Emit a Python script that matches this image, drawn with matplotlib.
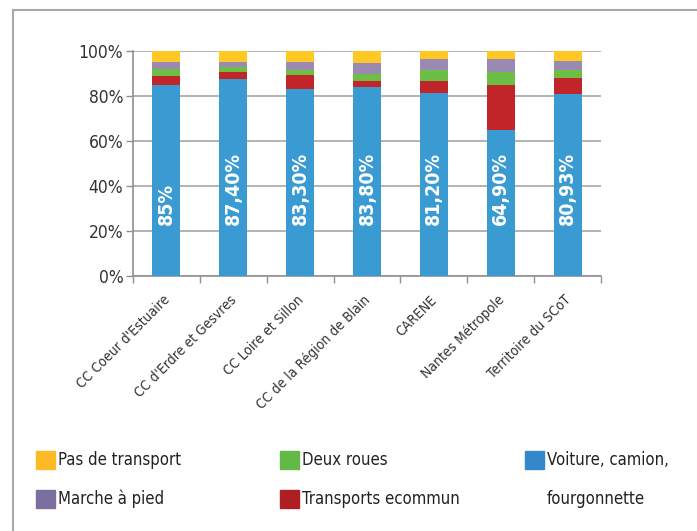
import matplotlib
matplotlib.use("Agg")
import matplotlib.pyplot as plt
from matplotlib.lines import Line2D
from matplotlib.patches import Rectangle
import numpy as np

plt.rcParams['font.family'] = ['DejaVu Sans']
plt.rcParams['font.stretch'] = 'condensed'

categories = ["CC Coeur d'Estuaire", "CC d'Erdre et Gesvres", "CC Loire et Sillon",
              "CC de la Région de Blain", "CARENE", "Nantes Métropole", "Territoire du SCoT"]
voiture = [85.0, 87.4, 83.3, 83.8, 81.2, 64.9, 80.93]
transports = [4.0, 3.1, 5.9, 2.7, 5.3, 19.9, 7.0]
deux_roues = [3.0, 2.3, 2.4, 3.3, 5.1, 5.9, 3.7]
marche = [3.0, 2.2, 3.4, 4.7, 4.7, 5.6, 3.8]
pas_transport = [5.0, 5.0, 5.0, 5.5, 3.7, 3.7, 4.6]
bar_labels = ["85%", "87,40%", "83,30%", "83,80%", "81,20%", "64,90%", "80,93%"]

series = [
    (voiture, '#3A9BD3'),
    (transports, '#C1252A'),
    (deux_roues, '#6DBE45'),
    (marche, '#9A89B0'),
    (pas_transport, '#FFC824'),
]

# legend entries: label, colour, x, y (pixels)
legend_items = [
    ("Pas de transport", '#FBBA26', 36, 460),
    ("Marche à pied", '#7A6F9E', 36, 499),
    ("Deux roues", '#62B946', 280, 460),
    ("Transports ecommun", '#AE1F24', 280, 499),
    ("Voiture, camion,", '#3388CC', 525, 460),
]

W, H = 697, 531
fig = plt.figure(figsize=(W / 100, H / 100), dpi=100)
ax = fig.add_axes([133 / W, 1 - 276 / H, (601 - 133) / W, (276 - 51) / H])

x = np.arange(len(categories))
bottom = np.zeros(len(categories))
for vals, col in series:
    ax.bar(x, vals, width=0.42, bottom=bottom, color=col, zorder=3)
    bottom += np.array(vals)

for xi, lab in zip(x, bar_labels):
    ax.text(xi, 22.5, lab, rotation=90, ha='center', va='bottom', color='white',
            fontsize=14, fontweight='bold', zorder=4)

ax.set_xlim(-0.5, len(categories) - 0.5)
ax.set_ylim(0, 100)
ax.set_yticks(np.arange(0, 101, 20))
ax.set_yticklabels([f"{v}%" for v in range(0, 101, 20)], fontsize=12.5, color='#333333')
ax.yaxis.grid(True, color='#A6A6A6', linewidth=1.2, zorder=0)
ax.tick_params(axis='y', length=5, color='#909090', width=1, pad=2)

ax.set_xticks(np.arange(-0.5, len(categories) + 0.5, 1))
ax.set_xticklabels([])
ax.tick_params(axis='x', length=5, color='#909090', width=1)
for xi, cat in zip(x, categories):
    ax.text(xi - 0.06, -7.5, cat, rotation=45, ha='right', va='top', rotation_mode='anchor',
            fontsize=10, color='#333333', transform=ax.transData)

for s in ['top', 'right']:
    ax.spines[s].set_visible(False)
for s in ['left', 'bottom']:
    ax.spines[s].set_color('#909090')
    ax.spines[s].set_linewidth(1.2)

# outer frame (top and left only)
fig.add_artist(Line2D([13 / W, 1], [1 - 10 / H, 1 - 10 / H], color='#A8A8A8', linewidth=1.5,
                      transform=fig.transFigure))
fig.add_artist(Line2D([13 / W, 13 / W], [1 - 10 / H, 0], color='#A8A8A8', linewidth=1.5,
                      transform=fig.transFigure))

# legend
for text, col, lx, ly in legend_items:
    fig.add_artist(Rectangle((lx / W, 1 - (ly + 9) / H), 19 / W, 18 / H, color=col,
                             transform=fig.transFigure))
    fig.text((lx + 22) / W, 1 - ly / H, text, ha='left', va='center',
             fontsize=12, color='#222222')
fig.text((525 + 22) / W, 1 - 499 / H, "fourgonnette", ha='left', va='center',
         fontsize=12, color='#222222')

fig.savefig("out.png", dpi=100)
